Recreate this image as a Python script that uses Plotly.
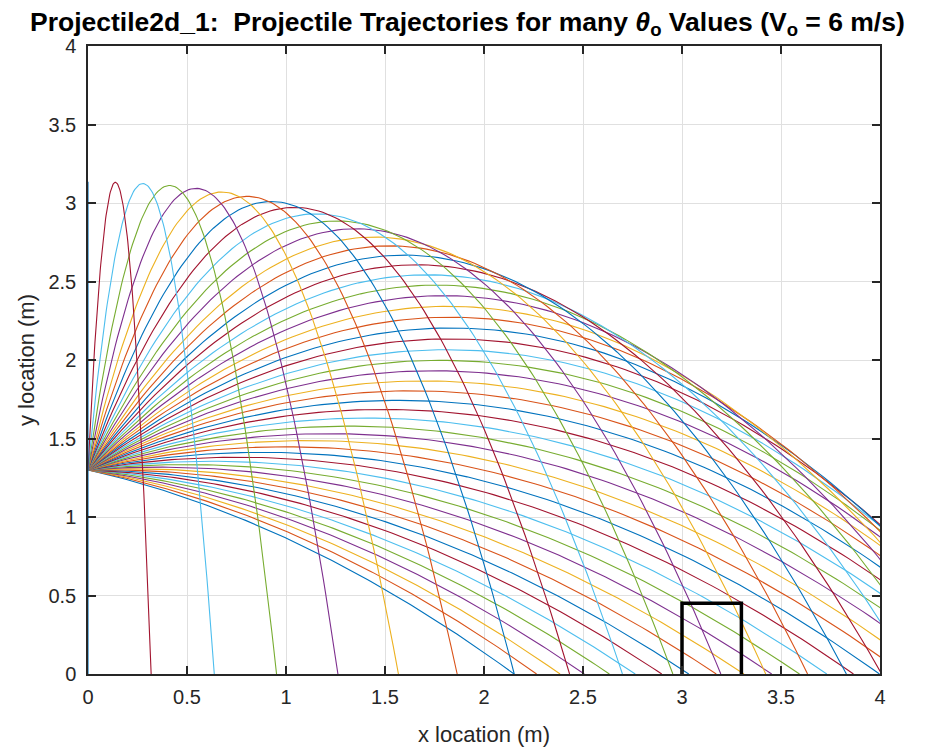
import numpy as np
import plotly.graph_objects as go

# Launch angles (degrees) (lowest trajectory first)
theta_deg = [-16.00, -13.84, -11.67, -9.51, -7.35, -5.18, -3.02, -0.86, 1.31, 3.47,
             5.63, 7.80, 9.96, 12.12, 14.29, 16.45, 18.61, 20.78, 22.94, 25.10,
             27.27, 29.43, 31.59, 33.76, 35.92, 38.08, 40.24, 42.41, 44.57, 46.73,
             48.90, 51.06, 53.22, 55.39, 57.55, 59.71, 61.88, 64.04, 66.20, 68.37,
             70.53, 72.69, 74.86, 77.02, 79.18, 81.35, 83.51, 85.67, 87.84, 90.00]
V0 = 6.0      # m/s (from the title)
Y0 = 1.3      # launch height, m
G = 9.81      # m/s^2

# Target box outline (m)
box_x = [3.0, 3.0, 3.3, 3.3]
box_y = [0.0, 0.45, 0.45, 0.0]

colors = ['#0072BD', '#D95319', '#EDB120', '#7E2F8E', '#77AC30', '#4DBEEE', '#A2142F']

fig = go.Figure()
for i, th in enumerate(theta_deg):
    r = np.deg2rad(th)
    vx, vy = V0 * np.cos(r), V0 * np.sin(r)
    t_land = (vy + np.sqrt(vy ** 2 + 2 * G * Y0)) / G
    t = np.linspace(0, t_land, 120)
    x = vx * t
    y = Y0 + vy * t - 0.5 * G * t ** 2
    fig.add_trace(go.Scatter(x=x, y=y, mode='lines',
                             line=dict(color=colors[i % 7], width=1.1),
                             showlegend=False, hoverinfo='skip'))

fig.add_trace(go.Scatter(x=box_x, y=box_y, mode='lines',
                         line=dict(color='black', width=3.5),
                         showlegend=False, hoverinfo='skip'))

FONT = 'Liberation Sans, Arial, sans-serif'

axis_common = dict(
    showgrid=True, gridcolor='#e0e0e0', gridwidth=1,
    showline=True, linecolor='#262626', linewidth=1.5, mirror='ticks',
    ticks='inside', ticklen=8, tickwidth=1.5, tickcolor='#262626',
    zeroline=False, automargin=False,
    tickfont=dict(family=FONT, size=20, color='#262626'),
    dtick=0.5, tick0=0,
)

fig.update_layout(
    width=930, height=753,
    paper_bgcolor='white', plot_bgcolor='white',
    margin=dict(l=80, r=58, t=38, b=87),
    title=dict(
        text='<b>Projectile2d_1:  Projectile Trajectories for many <i>θ</i><sub>o</sub> Values (V<sub>o</sub> = 6 m/s)</b>',
        x=0.494, xref='container', xanchor='center',
        y=0.982, yref='container', yanchor='middle',
        font=dict(family=FONT, size=26.5, color='black'),
    ),
    xaxis=dict(range=[0, 4], ticklabelstandoff=4,
               title=dict(text='x location (m)', standoff=20,
                          font=dict(family=FONT, size=22, color='#262626')),
               **axis_common),
    yaxis=dict(range=[0, 4], ticklabelstandoff=6,
               title=dict(text='y location (m)', standoff=8,
                          font=dict(family=FONT, size=22, color='#262626')),
               **axis_common),
)

fig.write_html('out.html')
